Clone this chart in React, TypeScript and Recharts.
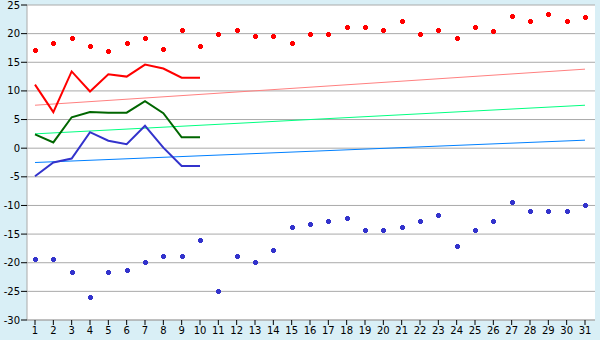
import React from "react";
import {
  ComposedChart,
  Line,
  XAxis,
  YAxis,
  CartesianGrid,
} from "recharts";

const days = [1, 2, 3, 4, 5, 6, 7, 8, 9, 10, 11, 12, 13, 14, 15, 16, 17, 18, 19, 20, 21, 22, 23, 24, 25, 26, 27, 28, 29, 30, 31];

const recordMax = [17.2, 18.3, 19.3, 17.9, 16.9, 18.3, 19.3, 17.4, 20.6, 17.8, 19.9, 20.6, 19.5, 19.5, 18.3, 20.0, 20.0, 21.1, 21.1, 20.6, 22.2, 20.0, 20.6, 19.3, 21.1, 20.4, 23.0, 22.2, 23.4, 22.2, 22.9];
const recordMin = [-19.4, -19.4, -21.7, -26.0, -21.7, -21.2, -19.9, -18.9, -18.9, -16.1, -25.0, -18.9, -19.9, -17.8, -13.8, -13.3, -12.8, -12.2, -14.3, -14.3, -13.8, -12.8, -11.7, -17.1, -14.3, -12.8, -9.4, -11.0, -11.0, -11.0, -10.0];

const obsMax = [11.1, 6.3, 13.4, 9.9, 12.9, 12.5, 14.6, 13.9, 12.3, 12.3];
const obsMean = [2.4, 1.0, 5.4, 6.3, 6.2, 6.2, 8.2, 6.1, 1.9, 1.9];
const obsMin = [-4.9, -2.5, -1.8, 2.8, 1.3, 0.7, 3.9, 0.1, -3.1, -3.1];

// normals: value at first and last day
const normMax = [7.5, 13.8];
const normMean = [2.5, 7.5];
const normMin = [-2.5, 1.4];

const yTicks = [-30, -25, -20, -15, -10, -5, 0, 5, 10, 15, 20, 25];

const data = days.map((d, i) => ({
  day: d,
  rmax: recordMax[i],
  rmin: recordMin[i],
  tmax: i < obsMax.length ? obsMax[i] : null,
  tmean: i < obsMean.length ? obsMean[i] : null,
  tmin: i < obsMin.length ? obsMin[i] : null,
  nmax: i === 0 ? normMax[0] : i === days.length - 1 ? normMax[1] : null,
  nmean: i === 0 ? normMean[0] : i === days.length - 1 ? normMean[1] : null,
  nmin: i === 0 ? normMin[0] : i === days.length - 1 ? normMin[1] : null,
}));

const makeDot = (color: string) => (props: any) => {
  const { cx, cy, index } = props;
  if (cx == null || cy == null) return <g key={`e${index}`} />;
  const x = Math.round(cx);
  const y = Math.round(cy);
  return (
    <path
      key={`d${index}`}
      d={`M${x - 1.5},${y - 2.5}h3v1h1v3h-1v1h-3v-1h-1v-3h1z`}
      fill={color}
      stroke="none"
      shapeRendering="crispEdges"
    />
  );
};

const font = { fontFamily: "DejaVu Sans", fontSize: 10, fill: "#000" };

export default function App() {
  return (
    <div
      style={{
        position: "absolute",
        left: 0,
        top: 0,
        width: 600,
        height: 340,
        background: "#d9eff6",
      }}
    >
      <ComposedChart
        width={600}
        height={340}
        data={data}
        margin={{ top: 5, right: 5, bottom: 0, left: 0 }}
      >
        <CartesianGrid
          vertical={false}
          stroke="#aaaaaa"
          fill="#ffffff"
          fillOpacity={1}
        />
        <XAxis
          dataKey="day"
          type="category"
          height={20}
          padding={{ left: 8, right: 10 }}
          interval={0}
          tick={font}
          tickSize={5}
          tickMargin={2}
          tickLine={{ stroke: "#000" }}
          axisLine={{ stroke: "#aaaaaa" }}
        />
        <YAxis
          domain={[-30, 25]}
          ticks={yTicks}
          type="number"
          width={27}
          interval={0}
          tick={font}
          tickSize={6}
          tickMargin={1}
          tickLine={{ stroke: "#000" }}
          axisLine={{ stroke: "#aaaaaa" }}
          allowDataOverflow
        />
        <YAxis
          yAxisId="r"
          orientation="right"
          width={0}
          tick={false}
          tickLine={false}
          axisLine={{ stroke: "#aaaaaa" }}
        />
        <Line dataKey="nmax" stroke="#ff8080" strokeWidth={1} dot={false} activeDot={false} connectNulls isAnimationActive={false} />
        <Line dataKey="nmean" stroke="#00ff80" strokeWidth={1} dot={false} activeDot={false} connectNulls isAnimationActive={false} />
        <Line dataKey="nmin" stroke="#0080ff" strokeWidth={1} dot={false} activeDot={false} connectNulls isAnimationActive={false} />
        <Line dataKey="tmax" stroke="#ff0000" strokeWidth={2} dot={false} activeDot={false} isAnimationActive={false} />
        <Line dataKey="tmean" stroke="#006600" strokeWidth={2} dot={false} activeDot={false} isAnimationActive={false} />
        <Line dataKey="tmin" stroke="#3333cc" strokeWidth={2} dot={false} activeDot={false} isAnimationActive={false} />
        <Line dataKey="rmax" stroke="none" dot={makeDot("#ff0000")} activeDot={false} isAnimationActive={false} />
        <Line dataKey="rmin" stroke="none" dot={makeDot("#3333cc")} activeDot={false} isAnimationActive={false} />
      </ComposedChart>
    </div>
  );
}
